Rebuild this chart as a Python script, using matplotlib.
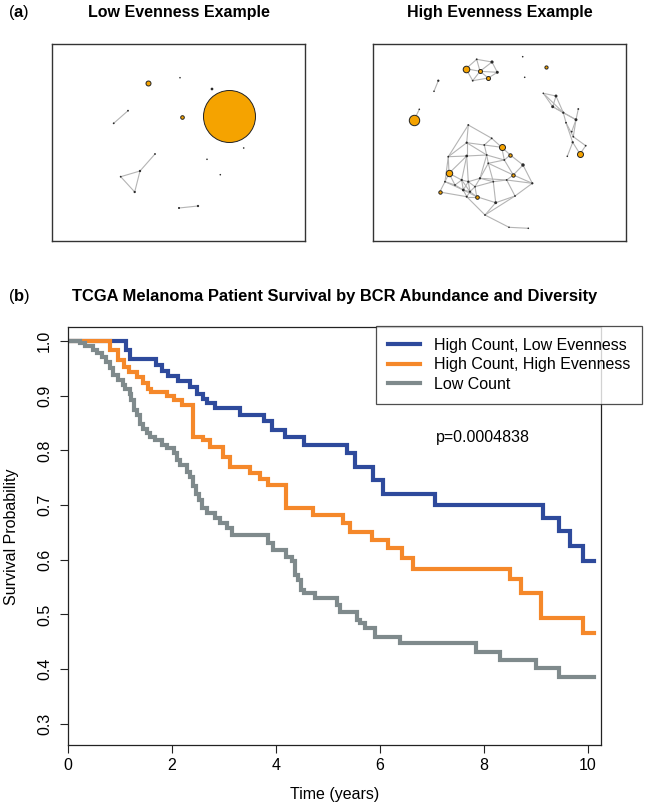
import matplotlib
matplotlib.use('Agg')
import matplotlib.pyplot as plt
from matplotlib.collections import LineCollection

plt.rcParams['font.family'] = ['Liberation Sans', 'DejaVu Sans']
plt.rcParams['mathtext.fontset'] = 'custom'
plt.rcParams['mathtext.rm'] = 'Liberation Sans'
plt.rcParams['mathtext.bf'] = 'Liberation Sans:bold'

W, H = 647, 808
FS = 11.5

# ---------------- panel (b) data: Kaplan-Meier steps ----------------
follow_up_end = 10.12

blue_t = [0, 1.12, 1.2, 1.7, 1.8, 1.93, 2.12, 2.35, 2.49, 2.59, 2.67, 2.83, 3.31, 3.76, 3.92,
          4.17, 4.53, 5.36, 5.52, 5.86, 6.06, 7.06, 9.13, 9.45, 9.65, 9.9]
blue_s = [1.0, 0.984, 0.968, 0.956, 0.945, 0.936, 0.926, 0.915, 0.904, 0.894, 0.886, 0.877, 0.865,
          0.853, 0.837, 0.825, 0.809, 0.795, 0.770, 0.745, 0.720, 0.700, 0.676, 0.652, 0.625, 0.598]

orange_t = [0, 0.81, 0.97, 1.08, 1.18, 1.32, 1.44, 1.54, 1.6, 1.9, 2.03, 2.19, 2.41, 2.6, 2.73,
            2.99, 3.12, 3.5, 3.69, 3.85, 4.2, 4.72, 5.29, 5.42, 5.84, 6.16, 6.42, 6.64, 8.5, 8.72,
            9.1, 9.9]
orange_s = [1.0, 0.984, 0.965, 0.953, 0.944, 0.934, 0.924, 0.913, 0.907, 0.9, 0.892, 0.883, 0.825,
            0.819, 0.807, 0.788, 0.77, 0.758, 0.747, 0.737, 0.694, 0.682, 0.667, 0.651, 0.636,
            0.621, 0.603, 0.584, 0.565, 0.54, 0.494, 0.466]

gray_t = [0, 0.23, 0.33, 0.49, 0.55, 0.65, 0.74, 0.81, 0.87, 0.97, 1.06, 1.1, 1.19, 1.22, 1.26,
          1.32, 1.38, 1.45, 1.51, 1.58, 1.67, 1.8, 1.9, 2.03, 2.09, 2.15, 2.28, 2.35, 2.41, 2.46,
          2.51, 2.57, 2.67, 2.83, 2.92, 3.05, 3.15, 3.85, 3.95, 4.2, 4.3, 4.37, 4.43, 4.49, 4.53,
          4.75, 5.17, 5.23, 5.55, 5.62, 5.71, 5.9, 6.38, 7.85, 8.3, 9.0, 9.45]
gray_s = [1.0, 0.996, 0.99, 0.984, 0.978, 0.971, 0.962, 0.95, 0.938, 0.929, 0.92, 0.913, 0.904,
          0.892, 0.874, 0.865, 0.849, 0.84, 0.831, 0.825, 0.819, 0.81, 0.804, 0.795, 0.782, 0.773,
          0.761, 0.752, 0.734, 0.72, 0.709, 0.694, 0.685, 0.676, 0.667, 0.658, 0.645, 0.63, 0.618,
          0.606, 0.597, 0.572, 0.563, 0.545, 0.539, 0.53, 0.517, 0.505, 0.49, 0.484, 0.475, 0.459,
          0.447, 0.432, 0.417, 0.402, 0.385]

groups = ['High Count, Low Evenness', 'High Count, High Evenness', 'Low Count']
colors = ['#2e4a9c', '#f5882a', '#7f8a8c']
p_text = 'p=0.0004838'

# ---------------- panel (a) data: network layouts (reference pixel units) ----------------
low_x = [147.7, 180, 212, 229.3, 181.7, 113.7, 128, 243.7, 207, 220.3, 120.7, 140, 134.7, 155, 179, 198]
low_y = [82.7, 77.7, 89, 116.3, 117.3, 123.3, 110.7, 148, 159.3, 174.7, 176.7, 171, 192, 154, 208, 206]
low_r = [2.5, 0.7, 1.2, 26, 1.8, 0.8, 0.8, 0.7, 0.7, 0.7, 0.8, 1.0, 1.0, 0.8, 0.9, 1.0]
low_orange = [0, 3, 4]
low_edges = [(5, 6), (10, 11), (11, 12), (12, 10), (11, 13), (14, 15)]

high_x = [522.7, 545.7, 524.7, 438.3, 434, 419.3, 414,
          466, 476.7, 480, 492, 497.3, 488.3, 472.7,
          543.3, 556, 552.7, 563.3, 578.3, 566, 576, 571.7, 573.3, 572.7, 585.7, 580, 567.3,
          468.3, 491.7, 466.7, 484.3, 501.7, 510.3, 448.3, 466.7, 486.7, 504.3, 523, 449, 488.3,
          513.3, 532.3, 445, 461.7, 468.3, 480, 493.3, 506.7, 463.3, 470, 439.7, 476.7, 466.7,
          495.7, 515, 485, 509, 528.3, 455, 475]
high_y = [56.7, 67.3, 77.3, 80.7, 91.3, 109.3, 120.3,
          68.7, 59.3, 71.3, 62, 72.3, 78, 80.7,
          93.3, 96, 106.7, 112.7, 109, 122.7, 119.7, 131.7, 136.7, 142.3, 145.7, 154, 156.3,
          125, 138.3, 142.7, 145, 147.3, 155, 156.7, 156, 155, 160, 165, 173.3, 163.3,
          175, 183.3, 181.7, 180, 181.7, 178.3, 181.7, 180, 190, 191.7, 192, 196.7, 196.7,
          202.7, 196, 215, 227.3, 228.3, 185, 186.7]
high_r = [0.7, 1.6, 0.7, 1.0, 0.7, 0.7, 5.2,
          3.3, 0.8, 2.0, 1.4, 1.3, 2.0, 0.8,
          0.7, 1.3, 1.3, 1.0, 0.8, 0.8, 1.3, 0.8, 0.8, 1.0, 0.8, 3.0, 0.7,
          0.8, 0.8, 1.0, 0.8, 3.0, 1.7, 0.8, 1.2, 0.8, 0.8, 1.5, 3.2, 0.8,
          1.7, 1.0, 0.8, 1.0, 1.0, 1.0, 0.8, 0.8, 1.2, 1.0, 1.7, 1.8, 0.9,
          1.3, 0.8, 0.8, 0.7, 0.7, 0.8, 0.8]
high_orange = [1, 6, 7, 9, 12, 25, 31, 32, 38, 40, 50, 51]
high_edges = [(3, 4), (5, 6),
              (7, 8), (7, 9), (7, 13), (8, 10), (8, 9), (10, 11), (10, 9), (9, 12), (12, 11),
              (13, 12), (9, 11), (13, 9),
              (14, 15), (14, 16), (15, 16), (15, 17), (16, 17), (16, 20), (17, 20), (18, 20),
              (17, 19), (19, 22), (20, 22), (19, 23), (22, 24), (23, 25), (24, 25), (23, 26),
              (20, 21), (14, 17)]
# main cluster, numbered from 1 (node k -> index 26 + k)
main_edges = [(1, 2), (1, 3), (1, 7), (2, 4), (2, 5), (3, 4), (3, 7), (3, 8), (3, 9), (4, 5),
              (4, 9), (5, 6), (5, 10), (6, 11), (6, 10), (7, 8), (7, 12), (7, 16), (8, 9), (8, 12),
              (8, 17), (8, 18), (9, 13), (9, 10), (9, 19), (10, 13), (10, 14), (11, 14), (11, 15),
              (13, 19), (13, 20), (13, 14), (14, 15), (14, 21), (15, 28), (15, 21), (12, 16),
              (12, 17), (12, 32), (16, 24), (16, 32), (16, 22), (17, 18), (17, 22), (17, 32),
              (18, 19), (18, 23), (18, 33), (19, 20), (19, 33), (20, 21), (20, 27), (21, 28),
              (22, 23), (22, 26), (23, 25), (23, 33), (24, 26), (25, 27), (25, 33), (26, 25),
              (26, 29), (27, 28), (27, 29), (28, 29), (29, 30), (30, 31), (22, 25), (23, 26),
              (32, 22), (33, 20), (18, 22), (17, 23), (19, 21)]
high_edges = high_edges + [(a + 26, b + 26) for a, b in main_edges]

fig = plt.figure(figsize=(W / 100, H / 100), dpi=100)


def px_axes(l, t, r, b):
    return fig.add_axes([l / W, 1 - b / H, (r - l) / W, (b - t) / H])


def draw_network(l, t, r, b, xs, ys, rs, orange, edges, title):
    ax = px_axes(l, t, r, b)
    ax.set_xlim(l, r)
    ax.set_ylim(b, t)
    segs = [[(xs[i], ys[i]), (xs[j], ys[j])] for i, j in edges]
    ax.add_collection(LineCollection(segs, colors='#b4b4b4', linewidths=0.8, zorder=1))
    for i in range(len(xs)):
        s = (1.44 * rs[i]) ** 2
        if i in orange:
            ax.scatter(xs[i], ys[i], s=s, c='#f5a300', edgecolors='#222222', linewidths=0.7, zorder=3)
        else:
            ax.scatter(xs[i], ys[i], s=s * 1.3, c='#2a2a2a', edgecolors='none', zorder=2)
    ax.set_xticks([])
    ax.set_yticks([])
    for sp in ax.spines.values():
        sp.set_color('#333333')
        sp.set_linewidth(1.0)
    fig.text((l + r) / 2 / W, 1 - 13 / H, title, ha='center', va='center',
             fontsize=FS, fontweight='bold')
    return ax


draw_network(52, 44, 305, 241, low_x, low_y, low_r, low_orange, low_edges, 'Low Evenness Example')
draw_network(373, 44, 626, 241, high_x, high_y, high_r, high_orange, high_edges, 'High Evenness Example')

fig.text(8 / W, 1 - 13 / H, r'($\mathbf{a}$)', ha='left', va='center', fontsize=FS + 0.5)
fig.text(8 / W, 1 - 296 / H, r'($\mathbf{b}$)', ha='left', va='center', fontsize=FS + 0.5)

# ---------------- panel (b) ----------------
ax = px_axes(68, 327, 601, 745)
series = [(blue_t, blue_s), (orange_t, orange_s), (gray_t, gray_s)]
for (t, s), lab, col in zip(series, groups, colors):
    ax.step(t + [follow_up_end], s + [s[-1]], where='post', color=col, lw=3.0,
            label=lab, solid_joinstyle='miter')

ax.set_xlim(0, 10.25)
ax.set_ylim(0.2614, 1.0256)
ax.set_xticks([0, 2, 4, 6, 8, 10])
ax.set_yticks([0.3, 0.4, 0.5, 0.6, 0.7, 0.8, 0.9, 1.0])
ax.set_yticklabels(['0.3', '0.4', '0.5', '0.6', '0.7', '0.8', '0.9', '1.0'],
                   rotation=90, va='center')
ax.tick_params(direction='out', length=5.5, width=0.8, labelsize=FS, color='#222222')
ax.tick_params(axis='x', pad=4)
ax.tick_params(axis='y', pad=6)
for sp in ax.spines.values():
    sp.set_color('#222222')
    sp.set_linewidth(0.9)

ax.text(7.08, 0.823, p_text, ha='left', va='center', fontsize=FS)

leg = ax.legend(loc='upper left', bbox_to_anchor=(376 / W, 1 - 326 / H),
                bbox_transform=fig.transFigure, fontsize=FS, frameon=True, fancybox=False,
                edgecolor='#222222', handlelength=2.0, handletextpad=0.85, borderpad=0.75,
                labelspacing=0.28, borderaxespad=0)
leg.get_frame().set_linewidth(0.9)
leg.set_clip_on(False)

fig.text(335 / W, 1 - 296 / H, 'TCGA Melanoma Patient Survival by BCR Abundance and Diversity',
         ha='center', va='center', fontsize=11.85, fontweight='bold')
fig.text(12 / W, 1 - 537 / H, 'Survival Probability', rotation=90, ha='center', va='center',
         fontsize=FS)
fig.text(335 / W, 1 - 795 / H, 'Time (years)', ha='center', va='center', fontsize=FS)

fig.savefig('out.png', dpi=100)
